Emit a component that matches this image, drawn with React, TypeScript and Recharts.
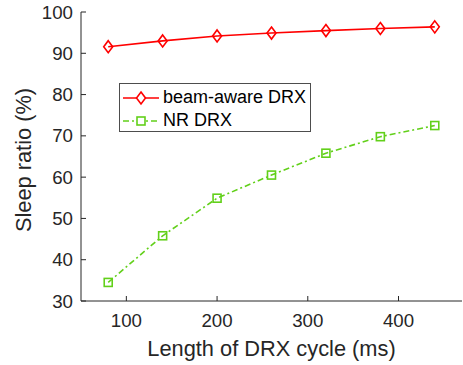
import React from "react";
import { LineChart, Line, XAxis, YAxis, Legend, Label } from "recharts";

// DRX cycle lengths (ms) and sleep ratios (%)
const cycles = [80, 140, 200, 260, 320, 380, 440];
const beamAware = [91.6, 93.0, 94.2, 94.9, 95.5, 96.0, 96.4];
const nrDrx = [34.5, 45.8, 54.9, 60.5, 65.8, 69.8, 72.5];
const xTicks = [100, 200, 300, 400];
const yTicks = [30, 40, 50, 60, 70, 80, 90, 100];

const data = cycles.map((c, i) => ({ x: c, beam: beamAware[i], nr: nrDrx[i] }));

const RED = "#ff0000";
const GREEN = "#62d01a";
const AXIS = "#262626";
const FONT = "'Liberation Sans', Arial, sans-serif";

const Diamond = (props: any) => {
  const { cx, cy } = props;
  if (cx == null || cy == null) return null;
  return (
    <polygon
      points={`${cx},${cy - 6} ${cx + 4.5},${cy} ${cx},${cy + 6} ${cx - 4.5},${cy}`}
      fill="none"
      stroke={RED}
      strokeWidth={1.6}
    />
  );
};

const Square = (props: any) => {
  const { cx, cy } = props;
  if (cx == null || cy == null) return null;
  return (
    <rect x={cx - 4} y={cy - 4} width={8} height={8} fill="none" stroke={GREEN} strokeWidth={1.6} />
  );
};

const LegendBox = () => (
  <div
    style={{
      width: 192,
      height: 49,
      boxSizing: "border-box",
      border: "1px solid #4d4d4d",
      background: "#fff",
      paddingTop: 2,
      paddingLeft: 3,
      fontFamily: FONT,
      fontSize: 18,
      color: "#000",
    }}
  >
    <div style={{ display: "flex", alignItems: "center", height: 23 }}>
      <svg width={38} height={20}>
        <line x1={0} y1={10} x2={36} y2={10} stroke={RED} strokeWidth={1.6} />
        <polygon points="18,4 22.5,10 18,16 13.5,10" fill="#fff" stroke={RED} strokeWidth={1.6} />
      </svg>
      <span style={{ marginLeft: 2 }}>beam-aware DRX</span>
    </div>
    <div style={{ display: "flex", alignItems: "center", height: 23 }}>
      <svg width={38} height={20}>
        <line x1={0} y1={10} x2={36} y2={10} stroke={GREEN} strokeWidth={1.6} strokeDasharray="6 3 2 3" />
        <rect x={14} y={6} width={8} height={8} fill="#fff" stroke={GREEN} strokeWidth={1.6} />
      </svg>
      <span style={{ marginLeft: 2 }}>NR DRX</span>
    </div>
  </div>
);

export default function App() {
  return (
    <div style={{ position: "absolute", left: 0, top: 0, background: "#fff" }}>
      <LineChart width={463} height={365} data={data} margin={{ top: 12, right: 1, bottom: 0, left: 0 }}>
        <XAxis
          dataKey="x"
          type="number"
          domain={[50, 470]}
          ticks={xTicks}
          height={64}
          tickSize={-5}
          tickMargin={18}
          stroke={AXIS}
          tick={{ fill: AXIS, fontSize: 18.7, fontFamily: FONT }}
        >
          <Label
            content={() => (
              <text x={271.5} y={356} textAnchor="middle" fill={AXIS} fontSize={21.8} fontFamily={FONT}>
                Length of DRX cycle (ms)
              </text>
            )}
          />
        </XAxis>
        <XAxis
          xAxisId="top"
          orientation="top"
          type="number"
          domain={[50, 470]}
          ticks={xTicks}
          height={0}
          tick={false}
          tickSize={-5}
          stroke={AXIS}
        />
        <YAxis
          type="number"
          domain={[30, 100]}
          ticks={yTicks}
          width={81}
          tickSize={-5}
          tickMargin={13}
          stroke={AXIS}
          tick={{ fill: AXIS, fontSize: 18.7, fontFamily: FONT }}
        >
          <Label
            content={() => (
              <text
                x={31}
                y={160}
                transform="rotate(-90 31 160)"
                textAnchor="middle"
                fill={AXIS}
                fontSize={21.8}
                fontFamily={FONT}
              >
                Sleep ratio (%)
              </text>
            )}
          />
        </YAxis>
        <YAxis
          yAxisId="right"
          orientation="right"
          type="number"
          domain={[30, 100]}
          ticks={yTicks}
          width={0}
          tick={false}
          tickSize={-5}
          stroke={AXIS}
        />
        <Legend
          layout="horizontal"
          verticalAlign="middle"
          align="center"
          wrapperStyle={{ left: 119, top: 83, width: 192, height: 49 }}
          content={() => <LegendBox />}
        />
        <Line
          dataKey="beam"
          stroke={RED}
          strokeWidth={1.6}
          dot={<Diamond />}
          isAnimationActive={false}
        />
        <Line
          dataKey="nr"
          stroke={GREEN}
          strokeWidth={1.6}
          strokeDasharray="6 3 2 3"
          dot={<Square />}
          isAnimationActive={false}
        />
      </LineChart>
    </div>
  );
}
